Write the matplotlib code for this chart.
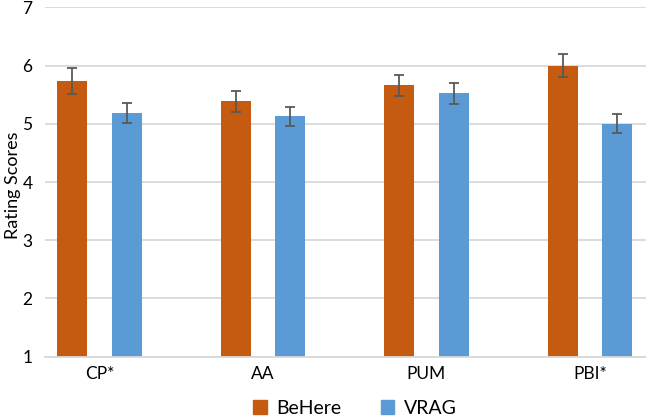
import numpy as np
import matplotlib
matplotlib.use("Agg")
import matplotlib.pyplot as plt
from matplotlib.patches import Patch

plt.rcParams['font.family'] = ['Lato', 'DejaVu Sans']

categories = ['CP*', 'AA', 'PUM', 'PBI*']
behere = [5.73, 5.39, 5.66, 6.0]
behere_err = [0.22, 0.18, 0.18, 0.19]
vrag = [5.19, 5.13, 5.52, 5.0]
vrag_err = [0.17, 0.16, 0.18, 0.16]

c_behere = '#C55A11'
c_vrag = '#5B9BD5'
grid_c = '#D9D9D9'

fig = plt.figure(figsize=(6.46, 4.16), dpi=100)
ax = fig.add_axes([0.0697, 0.1425, 0.9303, 0.84])

x = np.arange(len(categories))
w = 0.183
off = 0.167
ax.bar(x - off, np.array(behere) - 1, w, bottom=1, color=c_behere, zorder=2)
ax.bar(x + off, np.array(vrag) - 1, w, bottom=1, color=c_vrag, zorder=2)
ax.errorbar(x - off, behere, yerr=behere_err, fmt='none', ecolor='#595959',
            elinewidth=1.3, capsize=3.5, capthick=1.3, zorder=3)
ax.errorbar(x + off, vrag, yerr=vrag_err, fmt='none', ecolor='#595959',
            elinewidth=1.3, capsize=3.5, capthick=1.3, zorder=3)

ax.set_xlim(-0.332, 3.342)
ax.set_ylim(1, 7)
ax.set_yticks(range(1, 8))
ax.set_xticks(x)
ax.set_xticklabels(categories)
ax.yaxis.grid(True, color=grid_c, linewidth=1.3, zorder=0)
ax.set_axisbelow(True)
for s in ['top', 'right', 'left']:
    ax.spines[s].set_visible(False)
ax.spines['bottom'].set_color(grid_c)
ax.spines['bottom'].set_linewidth(1.3)
ax.tick_params(axis='both', length=0, labelsize=12.5, colors='#000000')
ax.tick_params(axis='y', pad=9)
ax.tick_params(axis='x', pad=7)
ax.set_ylabel('Rating Scores', fontsize=13)
ax.yaxis.set_label_coords(-0.04, 0.49)

handles = [Patch(color=c_behere, label='BeHere'), Patch(color=c_vrag, label='VRAG')]
fig.legend(handles=handles, loc='center', bbox_to_anchor=(355 / 646, 1 - 408 / 416),
           ncol=2, frameon=False, fontsize=14, handlelength=0.7, handleheight=0.7,
           handletextpad=0.5, columnspacing=2.0)

fig.savefig('out.png', dpi=100)
